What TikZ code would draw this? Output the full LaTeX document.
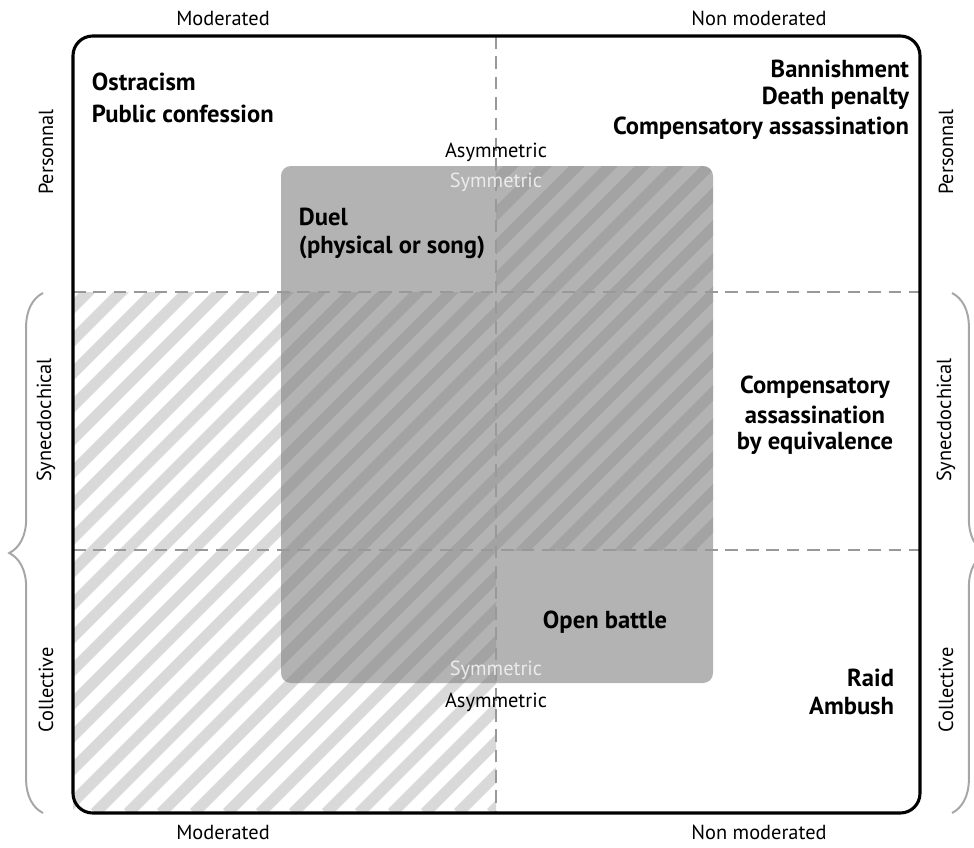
\documentclass[tikz,border=0pt]{standalone}
\usepackage{fontspec}
\setmainfont{PT Sans}
\usetikzlibrary{decorations.pathreplacing}

\tikzset{
  axis label/.style={font=\fontsize{14.5}{17}\selectfont},
  case/.style={font=\fontsize{17.5}{20}\selectfont\bfseries},
  divider/.style={draw=black!40, line width=2.1pt, dash pattern=on 9pt off 5.5pt},
  stripe/.style={draw=black!15, line width=8pt},
  symbox/.style={fill=black!50, fill opacity=0.6, rounded corners=7pt},
  sidebrace/.style={draw=black!35, line width=1.4pt, decorate,
    decoration={brace, amplitude=24pt}},
}

\begin{document}
\begin{tikzpicture}[x=0.025cm, y=-0.025cm]
  \clip (0,0) rectangle (974,848);

  % Hatching: moderated side below the personal row
  \begin{scope}
    \clip (73,292) rectangle (496,813);
    \foreach \c in {347,380,...,1400}
      \draw[stripe] (\c-813,813) -- ++(800,-800);
  \end{scope}

  % Hatching: non moderated side inside the box
  \begin{scope}
    \clip[rounded corners=7pt] (281,166) rectangle (713,683);
    \clip (496,166) rectangle (713,550);
    \foreach \c in {347,380,...,1400}
      \draw[stripe] (\c-813,813) -- ++(800,-800);
  \end{scope}

  % The symmetric box
  \fill[symbox] (281,166) rectangle (713,683);

  % Quadrant dividers
  \draw[divider] (73,292) -- (920,292);
  \draw[divider] (73,550) -- (920,550);
  \draw[divider] (496,36) -- (496,813);

  % Frame
  \draw[line width=2.2pt, rounded corners=14pt] (73,36) rectangle (920,813);

  % Braces over synecdochical + collective
  \draw[sidebrace] (43,813) -- (43,293);
  \draw[sidebrace] (952,293) -- (952,813);

  % Column labels
  \node[axis label] (topmod) at (223,18) {Moderated};
  \node[axis label] (topnon) at (759,18) {Non moderated};
  \node[axis label] (botmod) at (223,832) {Moderated};
  \node[axis label] (botnon) at (759,832) {Non moderated};

  % Row labels
  \node[axis label, rotate=90] (lpers) at (46,152) {Personnal};
  \node[axis label, rotate=90] (lsyn) at (46,420) {Synecdochical};
  \node[axis label, rotate=90] (lcoll) at (46,690) {Collective};
  \node[axis label, rotate=90] (rpers) at (946,152) {Personnal};
  \node[axis label, rotate=90] (rsyn) at (946,420) {Synecdochical};
  \node[axis label, rotate=90] (rcoll) at (946,690) {Collective};

  % Symmetric / asymmetric marks
  \node[axis label] (asymtop) at (496,152) {Asymmetric};
  \node[axis label, text=white!92!black] (symtop) at (496,182) {Symmetric};
  \node[axis label, text=white!92!black] (symbot) at (496,670) {Symmetric};
  \node[axis label] (asymbot) at (496,702) {Asymmetric};

  % Cases
  \node[case, anchor=west] (ostr) at (87,82) {Ostracism};
  \node[case, anchor=west] (conf) at (87,114) {Public confession};

  \node[case, anchor=east] (bann) at (914,69) {Bannishment};
  \node[case, anchor=east] (death) at (914,98) {Death penalty};
  \node[case, anchor=east] (comp) at (914,128) {Compensatory assassination};

  \node[case, anchor=west] (duel) at (294,217) {Duel};
  \node[case, anchor=west] (song) at (294,247) {(physical or song)};

  \node[case] (equiv1) at (815,387) {Compensatory};
  \node[case] (equiv2) at (815,415) {assassination};
  \node[case] (equiv3) at (815,443) {by equivalence};

  \node[case] (battle) at (605,622) {Open battle};

  \node[case, anchor=east] (raid) at (899,678) {Raid};
  \node[case, anchor=east] (ambush) at (899,706) {Ambush};
\end{tikzpicture}
\end{document}
